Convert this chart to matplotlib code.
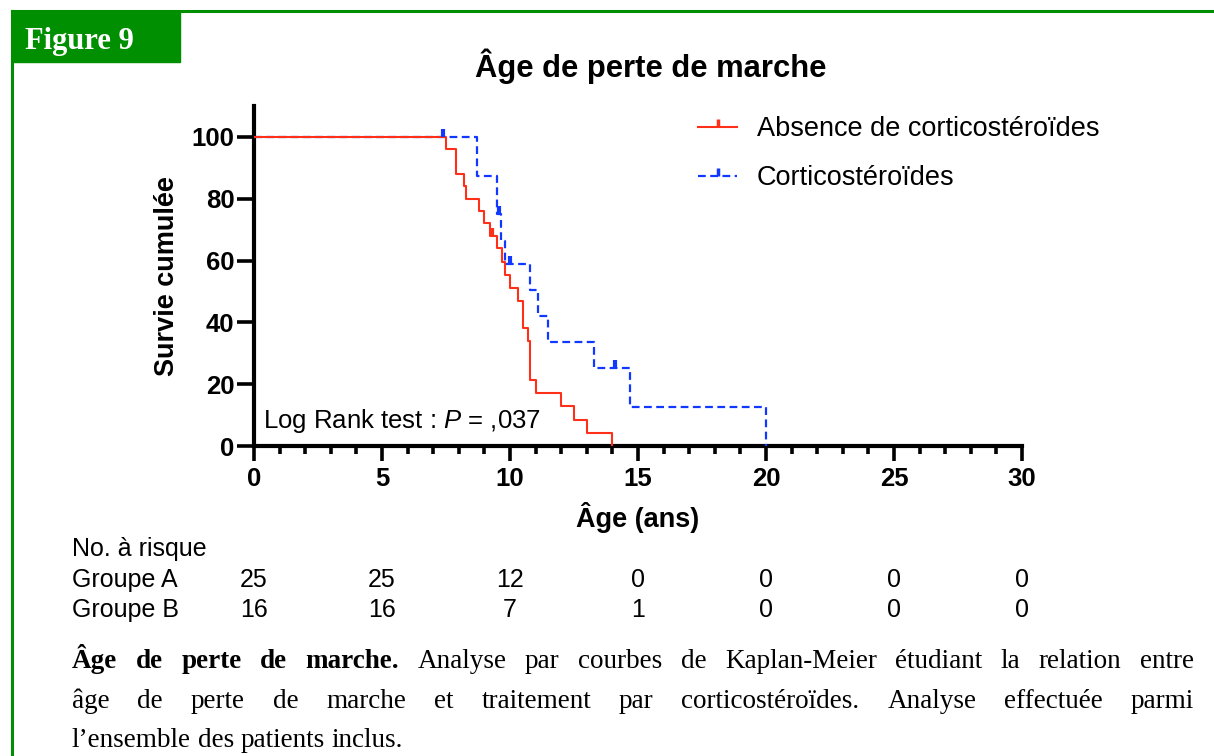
import matplotlib
matplotlib.use("Agg")
import matplotlib.pyplot as plt
import matplotlib.transforms as mtransforms
from matplotlib.lines import Line2D
from matplotlib.patches import Rectangle
from matplotlib.path import Path
from matplotlib.markers import MarkerStyle

# Kaplan-Meier curves (age in years, survival in %)
red_t = [0, 7.5, 7.9, 8.2, 8.3, 8.8, 9.0, 9.2, 9.5, 9.7, 9.8, 10.0, 10.3,
         10.5, 10.7, 10.8, 11.0, 12.0, 12.5, 13.0, 14.0]
red_s = [100, 96, 88, 84, 80, 76, 72, 68, 64, 59.6, 55.3, 51.1, 46.8,
         38.3, 34.0, 21.3, 17.0, 12.8, 8.5, 4.3, 0]
red_cens_t = [9.28]
red_cens_s = [68]

blue_t = [0, 8.7, 9.5, 9.65, 9.8, 10.8, 11.1, 11.5, 13.3, 14.7, 20.0]
blue_s = [100, 87.5, 75, 66.3, 58.9, 50.5, 42.1, 33.7, 25.2, 12.6, 0]
blue_cens_t = [7.4, 9.57, 10.0, 14.1]
blue_cens_s = [100, 75, 58.9, 25.2]

labels = ["Absence de corticostéroïdes", "Corticostéroïdes"]

risk_times = [0, 5, 10, 15, 20, 25, 30]
risk_a = [25, 25, 12, 0, 0, 0, 0]
risk_b = [16, 16, 7, 1, 0, 0, 0]

caption_lines = [
    [("Âge de perte de marche.", "bold"),
     ("Analyse par courbes de Kaplan-Meier étudiant la relation entre", "normal")],
    [("âge de perte de marche et traitement par corticostéroïdes. Analyse effectuée parmi", "normal")],
    [("l’ensemble des patients inclus.", "normal")],
]

RED = "#ff3019"
BLUE = "#1038ff"
GREEN = "#008f00"
W, H = 1214, 756
CAP_SIZE = 19.5

plt.rcParams["font.family"] = ["Liberation Sans", "DejaVu Sans"]
plt.rcParams["mathtext.fontset"] = "custom"
plt.rcParams["mathtext.rm"] = "Liberation Sans"
plt.rcParams["mathtext.it"] = "Liberation Sans:italic"
plt.rcParams["mathtext.bf"] = "Liberation Sans:bold"


def fx(px):
    return px / W


def fy(py):
    return 1 - py / H


fig = plt.figure(figsize=(W / 100, H / 100), dpi=100)
ax = fig.add_axes([fx(254), fy(446), fx(1022) - fx(254), fy(106) - fy(446)])

# censor tick: short vertical stroke going up from the curve
tick = MarkerStyle(Path([(0, 0), (0, 1)]))

ax.step(blue_t, blue_s, where="post", color=BLUE, lw=1.6,
        linestyle=(0, (3.5, 2)), zorder=3)
ax.step(red_t, red_s, where="post", color=RED, lw=1.5, zorder=4)
ax.plot(red_cens_t, red_cens_s, ls="none", marker=tick, ms=11, mew=3,
        color=RED, zorder=5)
ax.plot(blue_cens_t, blue_cens_s, ls="none", marker=tick, ms=11, mew=3,
        color=BLUE, zorder=5)

ax.set_xlim(0, 30)
ax.set_ylim(0, 110)
ax.set_xticks(range(0, 31, 5))
ax.set_xticks(range(0, 31, 1), minor=True)
ax.set_yticks(range(0, 101, 20))
for side in ["top", "right"]:
    ax.spines[side].set_visible(False)
for side in ["left", "bottom"]:
    ax.spines[side].set_linewidth(3)
ax.tick_params(axis="x", which="major", length=11, width=2.6, pad=4,
               labelsize=18.5)
ax.tick_params(axis="x", which="minor", length=6, width=2.6)
ax.tick_params(axis="y", which="major", length=12.5, width=2.6, pad=1.5,
               labelsize=18.5)
for lab in ax.get_xticklabels() + ax.get_yticklabels():
    lab.set_fontweight("bold")

ax.set_xlabel("Âge (ans)", fontsize=19.5, fontweight="bold")
ax.set_ylabel("Survie cumulée", fontsize=19.5, fontweight="bold")
ax.xaxis.set_label_coords(0.5, -0.165)
ax.yaxis.set_label_coords(-0.097, 0.5)

ax.text(0.35, 8.2, r"Log Rank test : $\mathit{P}$ = ,037", fontsize=18.5,
        ha="left", va="center")

handles = [
    Line2D([], [], color=RED, lw=1.5, marker=tick, ms=11, mew=2.5),
    Line2D([], [], color=BLUE, lw=1.6, linestyle=(0, (3.5, 2)), marker=tick,
           ms=11, mew=2.5),
]
ax.legend(handles, labels, loc="upper left",
          bbox_to_anchor=(fx(698), fy(116)), bbox_transform=fig.transFigure,
          frameon=False, fontsize=19.5, handlelength=1.45, handletextpad=0.73,
          labelspacing=0.85, borderpad=0, borderaxespad=0, numpoints=1)

fig.text(fx(651), fy(66), "Âge de perte de marche", fontsize=22.3,
         fontweight="bold", ha="center", va="center")

# numbers at risk
fig.text(fx(72), fy(556), "No. à risque", fontsize=18, va="baseline")
fig.text(fx(72), fy(587), "Groupe A", fontsize=18, va="baseline")
fig.text(fx(72), fy(617), "Groupe B", fontsize=18, va="baseline")
blend = mtransforms.blended_transform_factory(ax.transData, fig.transFigure)
for t, a, b in zip(risk_times, risk_a, risk_b):
    ax.text(t, fy(587), str(a), transform=blend, fontsize=18, ha="center",
            va="baseline")
    ax.text(t, fy(617), str(b), transform=blend, fontsize=18, ha="center",
            va="baseline")

# green frame and "Figure 9" tab
fig.add_artist(Line2D([fx(12), fx(12)], [0, fy(11)], color=GREEN, lw=2.2,
                      transform=fig.transFigure))
fig.add_artist(Line2D([fx(12), 1], [fy(11), fy(11)], color=GREEN, lw=2.2,
                      transform=fig.transFigure))
fig.add_artist(Rectangle((fx(12), fy(62)), fx(180) - fx(12), fy(11) - fy(62),
                         color=GREEN, transform=fig.transFigure))
fig.text(fx(25), fy(49), "Figure 9", fontsize=22, fontweight="bold",
         family="Liberation Serif", color="white", va="baseline")

# justified caption
renderer = fig.canvas.get_renderer()
left, right = 72, 1194
baselines = [668, 708, 747]
for i, line in enumerate(caption_lines):
    words = []
    for seg, weight in line:
        for w in seg.split():
            txt = fig.text(0, fy(baselines[i]), w, fontsize=CAP_SIZE,
                           family="Liberation Serif", fontweight=weight,
                           va="baseline")
            words.append(txt)
    widths = [w.get_window_extent(renderer).width for w in words]
    if i < len(caption_lines) - 1:
        gap = (right - left - sum(widths)) / (len(words) - 1)
    else:
        gap = CAP_SIZE * 100 / 72 * 0.25
    x = left
    for w, wd in zip(words, widths):
        w.set_x(fx(x))
        x += wd + gap

fig.savefig("out.png", dpi=100)
